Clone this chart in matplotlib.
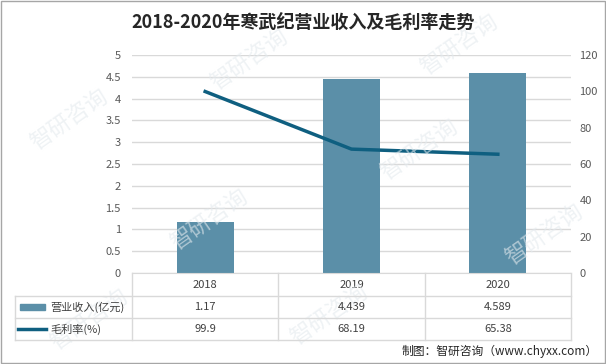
import matplotlib
matplotlib.use('Agg')
import matplotlib.pyplot as plt
from matplotlib.lines import Line2D
from matplotlib.patches import Rectangle

plt.rcParams['font.family'] = ['Noto Sans CJK SC', 'DejaVu Sans']

# data
years = ['2018', '2019', '2020']
revenue = [1.17, 4.439, 4.589]          # 营业收入(亿元)
margin = [99.9, 68.19, 65.38]           # 毛利率(%)
revenue_txt = ['1.17', '4.439', '4.589']
margin_txt = ['99.9', '68.19', '65.38']
left_ticks = [0, 0.5, 1, 1.5, 2, 2.5, 3, 3.5, 4, 4.5, 5]
right_ticks = [0, 20, 40, 60, 80, 100, 120]

bar_color = '#5B8FA8'
line_color = '#0F5F80'
grid_color = '#D9D9D9'
text_color = '#404040'

W, H = 606, 364
fig = plt.figure(figsize=(W / 100, H / 100), dpi=100)
fig.patch.set_facecolor('white')

# pixel helpers (top-left origin)
def fx(px):
    return px / W
def fy(py):
    return 1 - py / H

x0, x1 = 132, 571
y_top, y_bot = 55, 273
ax = fig.add_axes([fx(x0), fy(y_bot), fx(x1) - fx(x0), fy(y_top) - fy(y_bot)])
ax2 = ax.twinx()

xs = range(len(years))
ax.bar(xs, revenue, width=0.39, color=bar_color, zorder=2)
ax.set_xlim(-0.5, len(years) - 0.5)
ax.set_ylim(0, 5)
ax.set_yticks(left_ticks)
ax.set_yticklabels([f'{t:g}' for t in left_ticks])
ax.yaxis.grid(True, color=grid_color, lw=1)
ax.set_axisbelow(True)
ax.set_xticks(list(xs))
ax.set_xticklabels(years)
ax.tick_params(axis='x', length=0, pad=5, labelsize=8, labelcolor=text_color)
ax.tick_params(axis='y', length=0, pad=8, labelsize=8, labelcolor='#595959')

ax2.plot(list(xs), margin, color=line_color, lw=2.5, zorder=3)
ax2.set_ylim(0, 120)
ax2.set_yticks(right_ticks)
ax2.tick_params(axis='y', length=0, pad=6, labelsize=8, labelcolor='#595959')

for a in (ax, ax2):
    for s in a.spines.values():
        s.set_visible(False)
ax.spines['bottom'].set_visible(True)
ax.spines['bottom'].set_color(grid_color)

# data table under the chart
rows_y = [y_bot, y_bot + 23, y_bot + 45, y_bot + 67]
tbl_left = 15
col_w = (x1 - x0) / len(years)

def hline(xa, xb, y):
    fig.add_artist(Line2D([fx(xa), fx(xb)], [fy(y), fy(y)], color=grid_color, lw=1))

def vline(x, ya, yb):
    fig.add_artist(Line2D([fx(x), fx(x)], [fy(ya), fy(yb)], color=grid_color, lw=1))

for y in rows_y[1:]:
    hline(tbl_left, x1, y)
for i in range(len(years) + 1):
    vline(x0 + i * col_w, rows_y[0], rows_y[-1])
vline(tbl_left, rows_y[1], rows_y[-1])

for r, vals in enumerate([revenue_txt, margin_txt]):
    yc = (rows_y[r + 1] + rows_y[r + 2]) / 2
    for i, v in enumerate(vals):
        fig.text(fx(x0 + (i + 0.5) * col_w), fy(yc), v, ha='center', va='center',
                 fontsize=8, color=text_color)

# legend keys in the table
yc1 = (rows_y[1] + rows_y[2]) / 2
yc2 = (rows_y[2] + rows_y[3]) / 2
fig.add_artist(Rectangle((fx(20), fy(yc1 + 3)), fx(45) - fx(20), fy(yc1 - 3) - fy(yc1 + 3),
                         color=bar_color))
fig.add_artist(Line2D([fx(18), fx(46)], [fy(yc2), fy(yc2)], color=line_color, lw=2.5))
fig.text(fx(50), fy(yc1), '营业收入(亿元)', ha='left', va='center', fontsize=8, color=text_color)
fig.text(fx(50), fy(yc2), '毛利率(%)', ha='left', va='center', fontsize=8, color=text_color)

# title and source
fig.text(0.5, fy(22), '2018-2020年寒武纪营业收入及毛利率走势', ha='center', va='center',
         fontsize=13, fontweight='bold', color='#262626')
fig.text(fx(598), fy(351), '制图：智研咨询（www.chyxx.com）', ha='right', va='center',
         fontsize=8.5, color='#262626')

# faint watermarks
for (wx, wy) in [(70, 120), (250, 60), (460, 45), (210, 220), (420, 150), (545, 235), (90, 320), (330, 315)]:
    fig.text(fx(wx), fy(wy), '智研咨询', rotation=35, fontsize=16, color='#E4EAEE',
             alpha=0.6, ha='center', va='center', zorder=0)

# outer border
fig.add_artist(Rectangle((0.001, 0.002), 0.997, 0.996, fill=False, ec='#A6A6A6', lw=1))

fig.savefig('out.png', dpi=100)
